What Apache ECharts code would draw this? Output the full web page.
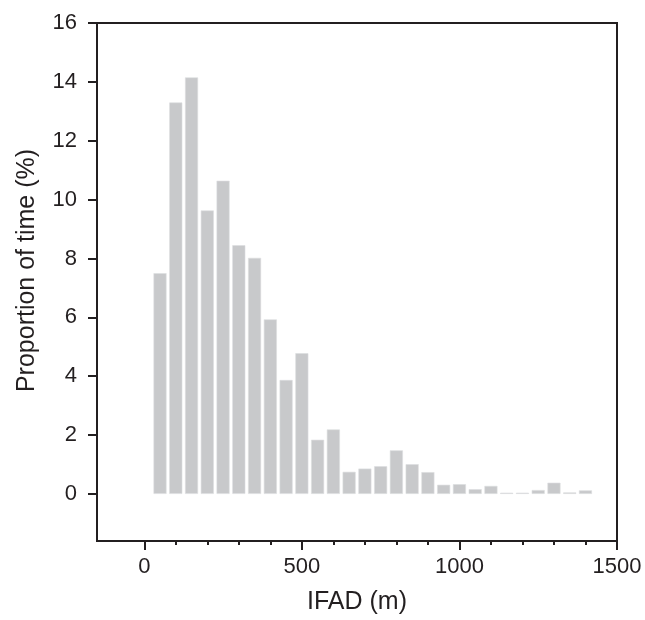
<!DOCTYPE html>
<html>
<head>
<meta charset="utf-8">
<script src="https://cdn.jsdelivr.net/npm/echarts@6/dist/echarts.min.js"></script>
<style>
html,body{margin:0;padding:0;background:#fff;}
#chart{width:645px;height:620px;}
</style>
</head>
<body>
<div id="chart"></div>
<script>
// Data
var binCenters = [50, 100, 150, 200, 250, 300, 350, 400, 450, 500, 550, 600, 650, 700, 750, 800, 850, 900, 950, 1000, 1050, 1100, 1150, 1200, 1250, 1300, 1350, 1400];
var proportions = [7.5, 13.3, 14.15, 9.63, 10.64, 8.45, 8.02, 5.93, 3.87, 4.78, 1.84, 2.19, 0.75, 0.86, 0.94, 1.48, 1.01, 0.74, 0.31, 0.33, 0.16, 0.27, 0.04, 0.04, 0.13, 0.38, 0.05, 0.12];
var xMajorTicks = [0, 500, 1000, 1500];
var xMinorTicks = [0, 100, 200, 300, 400, 500, 600, 700, 800, 900, 1000, 1100, 1200, 1300, 1400, 1500];
var yTicks = [0, 2, 4, 6, 8, 10, 12, 14, 16];
var xName = 'IFAD (m)';
var yName = 'Proportion of time (%)';

var ink = '#231f20';
var font = "'Liberation Sans', Arial, sans-serif";

var chart = echarts.init(document.getElementById('chart'), null, {renderer: 'canvas'});
chart.setOption({
  animation: false,
  backgroundColor: '#fff',
  grid: {left: 97, right: 28, top: 23, bottom: 75, show: true, borderColor: ink, borderWidth: 2, backgroundColor: 'transparent'},
  xAxis: [{
    type: 'value', min: -150, max: 1500, position: 'bottom',
    name: xName, nameLocation: 'middle', nameGap: 49,
    nameTextStyle: {fontFamily: font, fontSize: 25, color: ink},
    axisLine: {show: true, onZero: false, lineStyle: {color: ink, width: 2}},
    axisTick: {show: true, customValues: xMinorTicks, length: 4, lineStyle: {color: ink, width: 2}},
    axisLabel: {show: true, customValues: xMajorTicks, margin: 15, fontFamily: font, fontSize: 22, color: ink,
      formatter: function (v) { return String(v); }},
    splitLine: {show: false}
  }, {
    type: 'value', min: -150, max: 1500, position: 'bottom',
    axisLine: {show: false, onZero: false},
    axisTick: {show: true, customValues: xMajorTicks, length: 9, lineStyle: {color: ink, width: 2}},
    axisLabel: {show: false},
    splitLine: {show: false}
  }],
  yAxis: {
    type: 'value', min: -1.6, max: 16,
    name: yName, nameLocation: 'middle', nameGap: 57, nameRotate: 90,
    nameTextStyle: {fontFamily: font, fontSize: 25, color: ink, padding: [0, 0, 0, 23]},
    axisLine: {show: true, onZero: false, lineStyle: {color: ink, width: 2}},
    axisTick: {show: true, customValues: yTicks, length: 9, lineStyle: {color: ink, width: 2}},
    axisLabel: {show: true, customValues: yTicks, margin: 20, fontFamily: font, fontSize: 22, color: ink},
    splitLine: {show: false}
  },
  series: [{
    type: 'bar',
    xAxisIndex: 0,
    data: binCenters.map(function (x, i) { return [x, proportions[i]]; }),
    barWidth: 13,
    itemStyle: {color: '#c8c9cb', borderColor: '#dcdddf', borderWidth: 0.6}
  }]
});
</script>
</body>
</html>
